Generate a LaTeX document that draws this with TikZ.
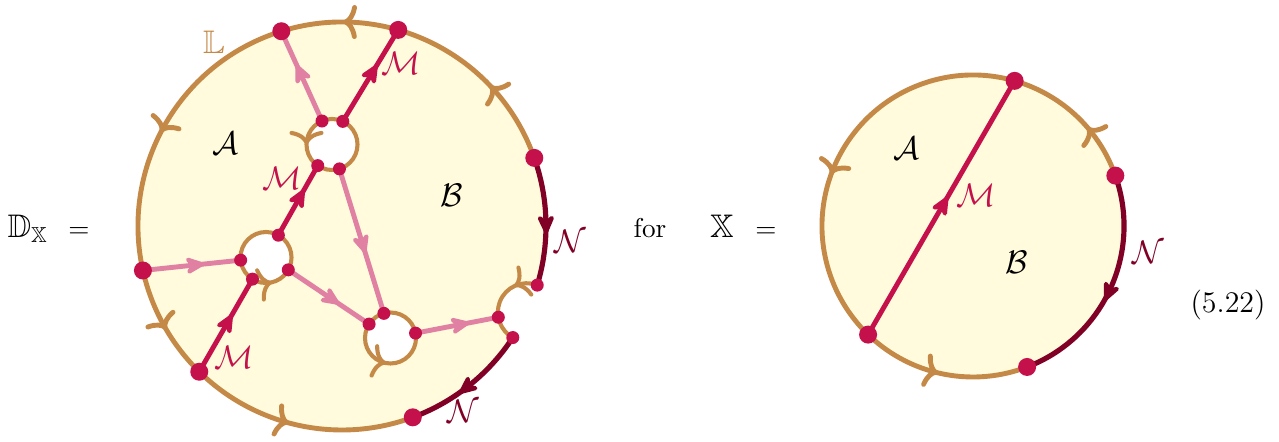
\documentclass[tikz,border=0pt]{standalone}
\usepackage{amssymb}
\usetikzlibrary{arrows.meta,decorations.markings}
\definecolor{lfill}{RGB}{255,251,220}
\definecolor{lorange}{RGB}{196,137,71}
\definecolor{mcrimson}{RGB}{196,17,76}
\definecolor{mpink}{RGB}{224,128,162}
\definecolor{nred}{RGB}{128,0,38}
\tikzset{
  bline/.style={lorange,line width=1.8pt},
  hline/.style={lorange,line width=1.5pt},
  barrow/.style={postaction={decorate,decoration={markings,mark=at position #1 with {\arrow{Computer Modern Rightarrow[length=5pt,width=12.5pt]}}}}},
  midarrow/.style={postaction={decorate,decoration={markings,mark=at position .5 with {\arrow[xshift=4.5pt]{Stealth[length=9pt,width=8pt,inset=3pt,round]}}}}},
  mline/.style={mcrimson,line width=1.8pt,midarrow},
  pline/.style={mpink,line width=1.8pt,midarrow},
  nline/.style={nred,line width=1.9pt,midarrow},
  lab/.style={font=\large},
}
\begin{document}
\begin{tikzpicture}[x=0.01292cm,y=0.01292cm]
	\useasboundingbox (0,0) rectangle (1279,441);
	% left disk
	\coordinate (cL) at (342,215);\coordinate (h1) at (332,296.5);\coordinate (h2) at (266,183.5);\coordinate (h3) at (390.5,103);
	\path (cL) ++(-25:204) coordinate (nt);
	\path (cL) ++(107.3:204) coordinate (o1) (cL) ++(74:204) coordinate (o2) (cL) ++(19.5:204) coordinate (o3)
		(cL) ++(192.6:204) coordinate (o4) (cL) ++(225.6:204) coordinate (o5) (cL) ++(290.3:204) coordinate (o6)
		(cL) ++(-16.85:204) coordinate (n1) (nt) ++(190:29) coordinate (n2) (cL) ++(-33.15:204) coordinate (n3);
	\path (h1) ++(113:25.5) coordinate (h1a) (h1) ++(65:25.5) coordinate (h1b) (h1) ++(236:25.5) coordinate (h1c) (h1) ++(287:25.5) coordinate (h1d);
	\path (h2) ++(61:25.5) coordinate (h2a) (h2) ++(186:25.5) coordinate (h2b) (h2) ++(238:25.5) coordinate (h2c) (h2) ++(331:25.5) coordinate (h2d);
	\path (h3) ++(105:25.5) coordinate (h3a) (h3) ++(147:25.5) coordinate (h3b) (h3) ++(11:25.5) coordinate (h3c);
	\fill[lfill] (cL) circle (204);
	\fill[white] (h1) circle (25.5) (h2) circle (25.5) (h3) circle (25.5) (nt) circle (29);
	\draw[bline,barrow=.088,barrow=.259,barrow=.4915,barrow=.705,barrow=.869] (o3) arc[start angle=19.5,end angle=290.3,radius=204];
	\draw[hline,barrow=.5] (h1) ++(0:25.5) arc[start angle=0,end angle=360,radius=25.5];
	\draw[hline,barrow=.786] (h2) ++(0:25.5) arc[start angle=0,end angle=360,radius=25.5];
	\draw[hline,barrow=.72] (h3) ++(0:25.5) arc[start angle=0,end angle=360,radius=25.5];
	\draw[hline,barrow=.27] (n1) arc[start angle=69.08,end angle=240.92,radius=29];
	\draw[nline] (o3) arc[start angle=19.5,end angle=-16.85,radius=204];
	\draw[nline] (n3) arc[start angle=-33.15,end angle=-69.7,radius=204];
	\draw[pline] (h1a) -- (o1);\draw[mline] (h1b) -- (o2);\draw[mline] (h2a) -- (h1c);\draw[pline] (h1d) -- (h3a);
	\draw[pline] (o4) -- (h2b);\draw[mline] (o5) -- (h2c);\draw[pline] (h2d) -- (h3b);\draw[pline] (h3c) -- (n2);
	\foreach \p in {o1,o2,o3,o4,o5,o6} \fill[mcrimson] (\p) circle (9);
	\foreach \p in {h1a,h1b,h1c,h1d,h2a,h2b,h2c,h2d,h3a,h3b,h3c,n1,n2,n3} \fill[mcrimson] (\p) circle (6.5);
	\node[lab,lorange] (lL) at (214,399) {$\mathbb{L}$};\node[lab] (lA) at (226,298) {$\mathcal{A}$};\node[lab] (lB) at (452,246) {$\mathcal{B}$};
	\node[lab,mcrimson] (lM1) at (401,378) {$\mathcal{M}$};\node[lab,mcrimson] (lM2) at (282,263) {$\mathcal{M}$};\node[lab,mcrimson] (lM3) at (234,84) {$\mathcal{M}$};
	\node[lab,nred] (lN1) at (570,200) {$\mathcal{N}$};\node[lab,nred] (lN2) at (463,30) {$\mathcal{N}$};
	% right disk
	\coordinate (cR) at (973,215);
	\path (cR) ++(74:151) coordinate (r1) (cR) ++(226:151) coordinate (r2) (cR) ++(19.5:151) coordinate (r3) (cR) ++(291:151) coordinate (r4);
	\fill[lfill] (cR) circle (151);
	\draw[bline,barrow=.078,barrow=.517,barrow=.873] (r3) arc[start angle=19.5,end angle=291,radius=151];
	\draw[nline] (r3) arc[start angle=19.5,end angle=-69,radius=151];
	\draw[mline] (r2) -- (r1);
	\foreach \p in {r1,r2,r3,r4} \fill[mcrimson] (\p) circle (9);
	\node[lab] (rA) at (907,293) {$\mathcal{A}$};\node[lab] (rB) at (1017,179) {$\mathcal{B}$};
	\node[lab,mcrimson] (rM) at (976,246) {$\mathcal{M}$};\node[lab,nred] (rN) at (1148,189) {$\mathcal{N}$};
	% equation text
	\node[lab,anchor=base west,inner sep=0] (dx) at (7,203.5) {$\mathbb{D}_{\mathbb{X}}$};\node[anchor=base] (eqa) at (79,203.5) {$=$};
	\node[anchor=base] (for) at (650,203.5) {for};\node[lab,anchor=base] (xx) at (722,203.5) {$\mathbb{X}$};\node[anchor=base] (eqb) at (766,203.5) {$=$};
	\node[anchor=base,font=\fontsize{11}{13}\selectfont] (eqn) at (1228,128) {(5.22)};
\end{tikzpicture}
\end{document}
